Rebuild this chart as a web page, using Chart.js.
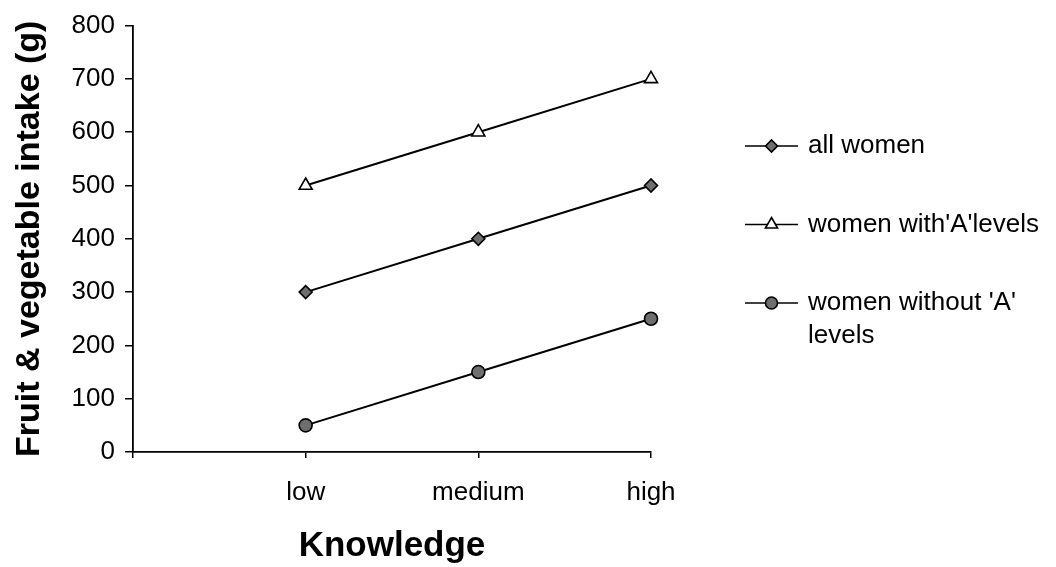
<!DOCTYPE html>
<html>
<head>
<meta charset="utf-8">
<script src="https://cdn.jsdelivr.net/npm/chart.js@4/dist/chart.umd.min.js"></script>
<style>
  html, body { margin: 0; padding: 0; background: #fff; }
  #wrap { width: 1056px; height: 567px; position: relative; }
</style>
</head>
<body>
<div id="wrap"><canvas id="intake-chart"></canvas></div>
<script>
// categories (first slot is left empty, like the original axis)
const knowledgeLevels = ['low', 'medium', 'high'];
const allWomen = [300, 400, 500];
const womenWithA = [500, 600, 700];
const womenWithoutA = [50, 150, 250];
const seriesNames = ['all women', "women with'A'levels", "women without 'A' levels"];
const yTicks = [0, 100, 200, 300, 400, 500, 600, 700, 800];

const FONT = "'Liberation Sans', Arial, sans-serif";

// legend drawn on the canvas so the last label can wrap onto two lines
const sideLegend = {
    id: 'sideLegend',
    afterDraw(chart, args, opts) {
        const ctx = chart.ctx;
        ctx.save();
        ctx.font = opts.size + 'px ' + FONT;
        ctx.textBaseline = 'middle';
        ctx.textAlign = 'left';
        chart.data.datasets.forEach(function (ds, i) {
            const y = opts.top + i * opts.step;
            ctx.strokeStyle = '#000';
            ctx.lineWidth = 1.5;
            ctx.beginPath();
            ctx.moveTo(opts.left, y);
            ctx.lineTo(opts.left + opts.lineLen, y);
            ctx.stroke();
            ctx.fillStyle = ds.pointBackgroundColor;
            ctx.strokeStyle = ds.pointBorderColor;
            ctx.lineWidth = ds.pointBorderWidth;
            Chart.helpers.drawPoint(ctx, {
                pointStyle: ds.pointStyle,
                radius: ds.pointRadius - 0.5,
                rotation: 0,
                borderWidth: ds.pointBorderWidth
            }, opts.left + opts.lineLen / 2, y);

            // wrap the label
            const words = ds.label.split(' ');
            const lines = [];
            let cur = '';
            words.forEach(function (w) {
                const test = cur ? cur + ' ' + w : w;
                if (cur && ctx.measureText(test).width > opts.maxWidth) {
                    lines.push(cur);
                    cur = w;
                } else {
                    cur = test;
                }
            });
            lines.push(cur);
            ctx.fillStyle = '#000';
            lines.forEach(function (l, k) {
                ctx.fillText(l, opts.left + opts.lineLen + 10, y + k * opts.lineGap);
            });
        });
        ctx.restore();
    }
};

function makeSet(label, values, style, fill, radius) {
    return {
        label: label,
        data: [null].concat(values),
        borderColor: '#000',
        borderWidth: 2,
        pointStyle: style,
        pointRadius: radius,
        pointBackgroundColor: fill,
        pointBorderColor: '#000',
        pointBorderWidth: 1.6,
        tension: 0
    };
}

const ctx = document.getElementById('intake-chart').getContext('2d');
const myChart = new Chart(ctx, {
    type: 'line',
    data: {
        labels: [''].concat(knowledgeLevels),
        datasets: [
            makeSet(seriesNames[0], allWomen, 'rectRot', '#6e6e6e', 6.5),
            makeSet(seriesNames[1], womenWithA, 'triangle', '#fff', 7.5),
            makeSet(seriesNames[2], womenWithoutA, 'circle', '#6e6e6e', 6.5)
        ]
    },
    plugins: [sideLegend],
    options: {
        responsive: true,
        maintainAspectRatio: false,
        animation: false,
        layout: { padding: { top: 25, right: 405, bottom: 0, left: 0 } },
        plugins: {
            legend: { display: false },
            tooltip: { enabled: false },
            sideLegend: { left: 745, top: 146, step: 78.5, lineLen: 53, size: 26, maxWidth: 240, lineGap: 33 }
        },
        scales: {
            x: {
                type: 'category',
                offset: false,
                afterFit: function (s) { s.height = 115; },
                grid: { drawOnChartArea: false, drawTicks: true, tickLength: 6, color: '#000', lineWidth: 1.5 },
                border: { display: true, color: '#000', width: 1.8 },
                ticks: { color: '#000', font: { family: FONT, size: 26 }, padding: 19, maxRotation: 0, autoSkip: false },
                title: {
                    display: true, text: 'Knowledge', color: '#000',
                    font: { family: FONT, size: 35, weight: 'bold' }, padding: { top: 0, bottom: 0 }
                }
            },
            y: {
                min: 0,
                max: 800,
                afterFit: function (s) { s.width = 133; },
                afterBuildTicks: function (s) { s.ticks = yTicks.map(v => ({ value: v })); },
                grid: { drawOnChartArea: false, drawTicks: true, tickLength: 8, color: '#000', lineWidth: 1.5 },
                border: { display: true, color: '#000', width: 1.8 },
                ticks: { color: '#000', font: { family: FONT, size: 26 }, padding: 10 },
                title: {
                    display: true, text: 'Fruit & vegetable intake (g)', color: '#000',
                    font: { family: FONT, size: 34, weight: 'bold' }, padding: { top: 9, bottom: 0 }
                }
            }
        }
    }
});
</script>
</body>
</html>
